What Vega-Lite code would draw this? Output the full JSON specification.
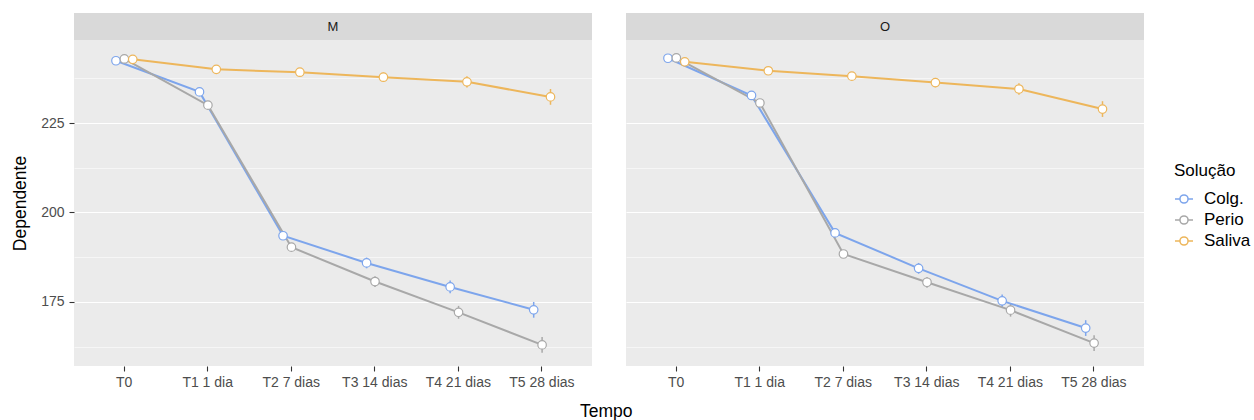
{
  "$schema": "https://vega.github.io/schema/vega-lite/v6.json",
  "padding": {"left": 11, "top": 13, "right": 0, "bottom": 0},
  "datasets": {
    "obs": [
      {"Painel": "M", "Tempo": "T0", "Solucao": "Colg.", "Media": 242.4, "Inf": 241.8, "Sup": 243.0},
      {"Painel": "M", "Tempo": "T1 1 dia", "Solucao": "Colg.", "Media": 233.7, "Inf": 232.9, "Sup": 234.5},
      {"Painel": "M", "Tempo": "T2 7 dias", "Solucao": "Colg.", "Media": 193.5, "Inf": 192.5, "Sup": 194.5},
      {"Painel": "M", "Tempo": "T3 14 dias", "Solucao": "Colg.", "Media": 185.9, "Inf": 184.4, "Sup": 187.4},
      {"Painel": "M", "Tempo": "T4 21 dias", "Solucao": "Colg.", "Media": 179.2, "Inf": 177.4, "Sup": 181.0},
      {"Painel": "M", "Tempo": "T5 28 dias", "Solucao": "Colg.", "Media": 172.8, "Inf": 170.6, "Sup": 175.0},
      {"Painel": "M", "Tempo": "T0", "Solucao": "Perio", "Media": 242.9, "Inf": 242.4, "Sup": 243.4},
      {"Painel": "M", "Tempo": "T1 1 dia", "Solucao": "Perio", "Media": 230.0, "Inf": 229.2, "Sup": 230.8},
      {"Painel": "M", "Tempo": "T2 7 dias", "Solucao": "Perio", "Media": 190.3, "Inf": 189.3, "Sup": 191.3},
      {"Painel": "M", "Tempo": "T3 14 dias", "Solucao": "Perio", "Media": 180.7, "Inf": 179.2, "Sup": 182.2},
      {"Painel": "M", "Tempo": "T4 21 dias", "Solucao": "Perio", "Media": 172.1, "Inf": 170.3, "Sup": 173.9},
      {"Painel": "M", "Tempo": "T5 28 dias", "Solucao": "Perio", "Media": 163.0, "Inf": 160.8, "Sup": 165.2},
      {"Painel": "M", "Tempo": "T0", "Solucao": "Saliva", "Media": 242.8, "Inf": 242.2, "Sup": 243.4},
      {"Painel": "M", "Tempo": "T1 1 dia", "Solucao": "Saliva", "Media": 240.0, "Inf": 239.2, "Sup": 240.8},
      {"Painel": "M", "Tempo": "T2 7 dias", "Solucao": "Saliva", "Media": 239.2, "Inf": 238.2, "Sup": 240.2},
      {"Painel": "M", "Tempo": "T3 14 dias", "Solucao": "Saliva", "Media": 237.8, "Inf": 236.5, "Sup": 239.1},
      {"Painel": "M", "Tempo": "T4 21 dias", "Solucao": "Saliva", "Media": 236.5, "Inf": 234.9, "Sup": 238.1},
      {"Painel": "M", "Tempo": "T5 28 dias", "Solucao": "Saliva", "Media": 232.3, "Inf": 230.1, "Sup": 234.5},
      {"Painel": "O", "Tempo": "T0", "Solucao": "Colg.", "Media": 243.1, "Inf": 242.5, "Sup": 243.7},
      {"Painel": "O", "Tempo": "T1 1 dia", "Solucao": "Colg.", "Media": 232.7, "Inf": 231.9, "Sup": 233.5},
      {"Painel": "O", "Tempo": "T2 7 dias", "Solucao": "Colg.", "Media": 194.3, "Inf": 193.3, "Sup": 195.3},
      {"Painel": "O", "Tempo": "T3 14 dias", "Solucao": "Colg.", "Media": 184.4, "Inf": 182.9, "Sup": 185.9},
      {"Painel": "O", "Tempo": "T4 21 dias", "Solucao": "Colg.", "Media": 175.3, "Inf": 173.5, "Sup": 177.1},
      {"Painel": "O", "Tempo": "T5 28 dias", "Solucao": "Colg.", "Media": 167.7, "Inf": 165.5, "Sup": 169.9},
      {"Painel": "O", "Tempo": "T0", "Solucao": "Perio", "Media": 243.2, "Inf": 242.7, "Sup": 243.7},
      {"Painel": "O", "Tempo": "T1 1 dia", "Solucao": "Perio", "Media": 230.6, "Inf": 229.8, "Sup": 231.4},
      {"Painel": "O", "Tempo": "T2 7 dias", "Solucao": "Perio", "Media": 188.4, "Inf": 187.4, "Sup": 189.4},
      {"Painel": "O", "Tempo": "T3 14 dias", "Solucao": "Perio", "Media": 180.5, "Inf": 179.0, "Sup": 182.0},
      {"Painel": "O", "Tempo": "T4 21 dias", "Solucao": "Perio", "Media": 172.7, "Inf": 170.9, "Sup": 174.5},
      {"Painel": "O", "Tempo": "T5 28 dias", "Solucao": "Perio", "Media": 163.5, "Inf": 161.3, "Sup": 165.7},
      {"Painel": "O", "Tempo": "T0", "Solucao": "Saliva", "Media": 242.1, "Inf": 241.5, "Sup": 242.7},
      {"Painel": "O", "Tempo": "T1 1 dia", "Solucao": "Saliva", "Media": 239.6, "Inf": 238.8, "Sup": 240.4},
      {"Painel": "O", "Tempo": "T2 7 dias", "Solucao": "Saliva", "Media": 238.1, "Inf": 237.1, "Sup": 239.1},
      {"Painel": "O", "Tempo": "T3 14 dias", "Solucao": "Saliva", "Media": 236.3, "Inf": 235.0, "Sup": 237.6},
      {"Painel": "O", "Tempo": "T4 21 dias", "Solucao": "Saliva", "Media": 234.5, "Inf": 232.9, "Sup": 236.1},
      {"Painel": "O", "Tempo": "T5 28 dias", "Solucao": "Saliva", "Media": 228.9, "Inf": 226.7, "Sup": 231.1}
    ]
  },
  "title": {"text": "Tempo", "orient": "bottom", "anchor": "middle", "fontSize": 17.5, "fontWeight": "normal", "font": "Liberation Sans", "color": "#000000", "offset": 14, "dx": -25},
  "spacing": 34,
  "resolve": {"scale": {"color": "shared"}, "legend": {"color": "shared"}},
  "hconcat": [
    {
      "spacing": 0,
      "vconcat": [
        {
          "data": {"values": [{"Painel": "M"}]},
          "width": 518, "height": 27,
          "view": {"fill": "#D9D9D9", "stroke": null},
          "mark": {"type": "text", "fontSize": 13, "color": "#1A1A1A", "font": "Liberation Sans"},
          "encoding": {"text": {"field": "Painel", "type": "nominal"}}
        },
        {
          "data": {"name": "obs"},
          "transform": [{"filter": "datum.Painel === 'M'"}],
          "width": 518, "height": 326,
          "encoding": {
            "x": {"field": "Tempo", "type": "ordinal", "sort": ["T0", "T1 1 dia", "T2 7 dias", "T3 14 dias", "T4 21 dias", "T5 28 dias"], "scale": {"paddingInner": 0, "paddingOuter": 0.1}, "axis": {"title": null, "labelAngle": 0, "bandPosition": 0.5, "labelPadding": 4}},
            "xOffset": {"field": "Solucao", "type": "nominal", "sort": ["Colg.", "Perio", "Saliva"], "scale": {"paddingInner": 0, "paddingOuter": 0, "range": [29.4, 54.6]}},
            "color": {"field": "Solucao", "type": "nominal", "scale": {"domain": ["Colg.", "Perio", "Saliva"], "range": ["#7DA5EC", "#A8A8A8", "#EDB65B"]}, "legend": {"title": "Solução", "orient": "none", "legendX": 1100, "legendY": 150}}
          },
          "layer": [
            {"mark": {"type": "rule", "strokeWidth": 1.5}, "encoding": {"y": {"field": "Inf", "type": "quantitative", "scale": {"domain": [157.1, 248.2], "nice": false, "zero": false}, "axis": {"orient": "right", "values": [162.5, 187.5, 212.5, 237.5], "grid": true, "gridWidth": 0.55, "labels": false, "ticks": false, "domain": false, "title": null}}, "y2": {"field": "Sup"}}},
            {"mark": {"type": "line", "strokeWidth": 2}, "encoding": {"y": {"field": "Media", "type": "quantitative", "axis": {"orient": "left", "values": [175, 200, 225], "title": "Dependente", "grid": true, "labelPadding": 5, "titlePadding": 11}}}},
            {"mark": {"type": "point", "filled": false, "fill": "white", "size": 72, "strokeWidth": 1.2, "opacity": 1}, "encoding": {"y": {"field": "Media", "type": "quantitative", "axis": null}}}
          ],
          "resolve": {"axis": {"y": "independent"}}
        }
      ]
    },
    {
      "spacing": 0,
      "vconcat": [
        {
          "data": {"values": [{"Painel": "O"}]},
          "width": 518, "height": 27,
          "view": {"fill": "#D9D9D9", "stroke": null},
          "mark": {"type": "text", "fontSize": 13, "color": "#1A1A1A", "font": "Liberation Sans"},
          "encoding": {"text": {"field": "Painel", "type": "nominal"}}
        },
        {
          "data": {"name": "obs"},
          "transform": [{"filter": "datum.Painel === 'O'"}],
          "width": 518, "height": 326,
          "encoding": {
            "x": {"field": "Tempo", "type": "ordinal", "sort": ["T0", "T1 1 dia", "T2 7 dias", "T3 14 dias", "T4 21 dias", "T5 28 dias"], "scale": {"paddingInner": 0, "paddingOuter": 0.1}, "axis": {"title": null, "labelAngle": 0, "bandPosition": 0.5, "labelPadding": 4}},
            "xOffset": {"field": "Solucao", "type": "nominal", "sort": ["Colg.", "Perio", "Saliva"], "scale": {"paddingInner": 0, "paddingOuter": 0, "range": [29.4, 54.6]}},
            "color": {"field": "Solucao", "type": "nominal", "scale": {"domain": ["Colg.", "Perio", "Saliva"], "range": ["#7DA5EC", "#A8A8A8", "#EDB65B"]}, "legend": {"title": "Solução", "orient": "none", "legendX": 1100, "legendY": 150}}
          },
          "layer": [
            {"mark": {"type": "rule", "strokeWidth": 1.5}, "encoding": {"y": {"field": "Inf", "type": "quantitative", "scale": {"domain": [157.1, 248.2], "nice": false, "zero": false}, "axis": {"orient": "right", "values": [162.5, 187.5, 212.5, 237.5], "grid": true, "gridWidth": 0.55, "labels": false, "ticks": false, "domain": false, "title": null}}, "y2": {"field": "Sup"}}},
            {"mark": {"type": "line", "strokeWidth": 2}, "encoding": {"y": {"field": "Media", "type": "quantitative", "axis": {"orient": "left", "values": [175, 200, 225], "title": null, "labels": false, "ticks": false, "grid": true}}}},
            {"mark": {"type": "point", "filled": false, "fill": "white", "size": 72, "strokeWidth": 1.2, "opacity": 1}, "encoding": {"y": {"field": "Media", "type": "quantitative", "axis": null}}}
          ],
          "resolve": {"axis": {"y": "independent"}}
        }
      ]
    }
  ],
  "config": {
    "font": "Liberation Sans",
    "view": {"fill": "#EBEBEB", "stroke": null},
    "axis": {"domain": false, "gridColor": "#FFFFFF", "gridWidth": 1.1, "gridOpacity": 1, "tickColor": "#333333", "tickSize": 5, "tickWidth": 1.1, "labelColor": "#4D4D4D", "labelFontSize": 14, "labelFont": "Liberation Sans", "titleFont": "Liberation Sans", "titleFontSize": 17.5, "titleFontWeight": "normal", "titleColor": "#000000"},
    "legend": {"titleFontSize": 17, "titleFontWeight": "normal", "titleColor": "#000000", "labelFontSize": 17, "labelColor": "#000000", "symbolType": "M-1,0H-0.45M0.45,0H1M-0.45,0A0.45,0.45 0 1,0 0.45,0A0.45,0.45 0 1,0 -0.45,0Z", "symbolSize": 324, "symbolStrokeWidth": 1.5, "symbolFillColor": "white", "rowPadding": 3, "labelOffset": 10, "titlePadding": 9}
  }
}
